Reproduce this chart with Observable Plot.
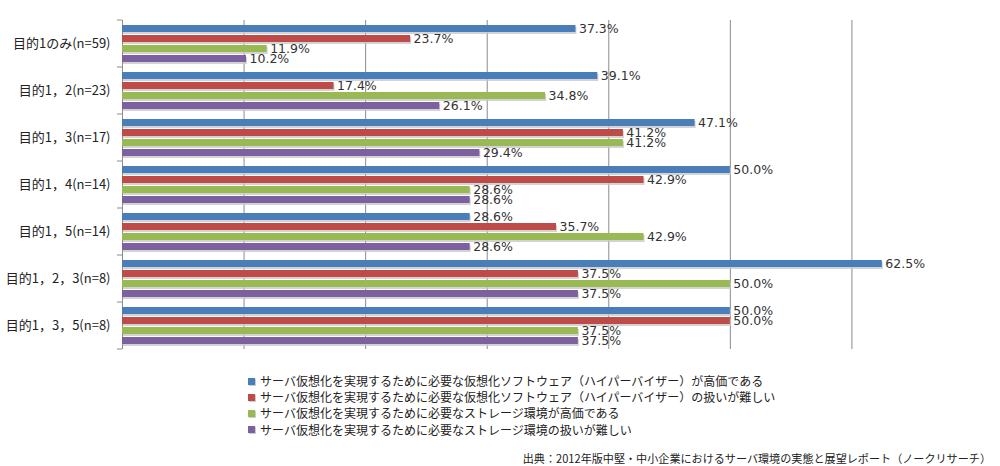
<!DOCTYPE html>
<html>
<head>
<meta charset="utf-8">
<script src="https://cdn.jsdelivr.net/npm/d3@7"></script>
<script src="https://cdn.jsdelivr.net/npm/@observablehq/plot@0.6"></script>
<style>
  body { margin: 0; background: #fff; width: 1000px; height: 466px; position: relative; overflow: hidden; }
  #chart { position: absolute; left: 0; top: 0; }
  #legend { position: absolute; left: 248px; top: 373px; font-family: "Noto Sans CJK JP", sans-serif; font-size: 12px; color: #222; }
  #legend div { height: 16.2px; line-height: 16.2px; display: flex; align-items: center; white-space: nowrap; }
  #legend span.sw { display: inline-block; width: 7px; height: 7px; margin-right: 5px; box-shadow: 1px 1px 0 #ccc; }
  #caption { position: absolute; right: 9px; top: 450px; font-family: "Noto Sans CJK JP", sans-serif; font-size: 11.1px; color: #222; white-space: nowrap; }
</style>
</head>
<body>
<div id="chart"></div>
<div id="legend"></div>
<div id="caption">出典：2012年版中堅・中小企業におけるサーバ環境の実態と展望レポート（ノークリサーチ）</div>
<script>
const categories = ["目的1のみ(n=59)", "目的1，2(n=23)", "目的1，3(n=17)", "目的1，4(n=14)", "目的1，5(n=14)", "目的1，2，3(n=8)", "目的1，3，5(n=8)"];
const seriesNames = [
  "サーバ仮想化を実現するために必要な仮想化ソフトウェア（ハイパーバイザー）が高価である",
  "サーバ仮想化を実現するために必要な仮想化ソフトウェア（ハイパーバイザー）の扱いが難しい",
  "サーバ仮想化を実現するために必要なストレージ環境が高価である",
  "サーバ仮想化を実現するために必要なストレージ環境の扱いが難しい"
];
const seriesColors = ["#4a7ebb", "#be4b48", "#98b954", "#7d60a0"];
const hypervisorExpensive = [37.3, 39.1, 47.1, 50.0, 28.6, 62.5, 50.0];
const hypervisorDifficult = [23.7, 17.4, 41.2, 42.9, 35.7, 37.5, 50.0];
const storageExpensive = [11.9, 34.8, 41.2, 28.6, 42.9, 50.0, 37.5];
const storageDifficult = [10.2, 26.1, 29.4, 28.6, 28.6, 37.5, 37.5];
const gridTicks = [10, 20, 30, 40, 50, 60];

const seriesValues = [hypervisorExpensive, hypervisorDifficult, storageExpensive, storageDifficult];
const data = [];
categories.forEach((c, i) => {
  seriesNames.forEach((s, j) => {
    data.push({category: c, series: s, value: seriesValues[j][i]});
  });
});

const jpFont = "'Noto Sans CJK JP', sans-serif";

const plot = Plot.plot({
  width: 1000,
  height: 360,
  marginTop: 19,
  marginBottom: 11,
  marginLeft: 122,
  marginRight: 27,
  style: {background: "#fff", overflow: "visible", fontFamily: jpFont},
  x: {domain: [0, 70], axis: null},
  fy: {domain: categories, padding: 0, label: null},
  y: {domain: seriesNames, paddingInner: 0.28, paddingOuter: 0.4, axis: null},
  color: {domain: seriesNames, range: seriesColors},
  marks: [
    Plot.gridX(gridTicks, {stroke: "#8c8c8c", strokeOpacity: 1, strokeWidth: 1}),
    Plot.ruleX([0], {stroke: "#8c8c8c", strokeWidth: 1}),
    Plot.barX(data, {fy: "category", y: "series", x: "value", fill: "#c8c8c8", dx: 1, dy: 2, fillOpacity: 0.8}),
    Plot.barX(data, {fy: "category", y: "series", x: "value", fill: "series"}),
    Plot.text(data, {fy: "category", y: "series", x: "value", text: d => d.value.toFixed(1) + "%", dx: 3, textAnchor: "start", fontSize: 12.5, fill: "#333"}),
    Plot.axisFy({anchor: "left", tickSize: 0, tickPadding: 12, fontSize: 13, fill: "#222", label: null})
  ]
});

document.getElementById("chart").appendChild(plot);

const svg = d3.select(plot);
// value labels in a Verdana-like face
svg.selectAll('g[aria-label="text"]').attr("font-family", null)
  .style("font-family", "'DejaVu Sans', Verdana, sans-serif");
svg.selectAll('g[aria-label="text"] text').style("font-family", "'DejaVu Sans', Verdana, sans-serif");

// category boundary tick marks on the value axis
const fy = plot.scale("fy");
const bounds = [];
categories.forEach(c => { bounds.push(fy.apply(c)); });
bounds.push(fy.apply(categories[categories.length - 1]) + fy.bandwidth);
svg.append("g").selectAll("line").data(bounds).join("line")
  .attr("x1", 117).attr("x2", 122)
  .attr("y1", d => d).attr("y2", d => d)
  .attr("stroke", "#8c8c8c");

// legend
const legend = d3.select("#legend");
seriesNames.forEach((s, i) => {
  const row = legend.append("div");
  row.append("span").attr("class", "sw").style("background", seriesColors[i]);
  row.append("span").text(s);
});
</script>
</body>
</html>
